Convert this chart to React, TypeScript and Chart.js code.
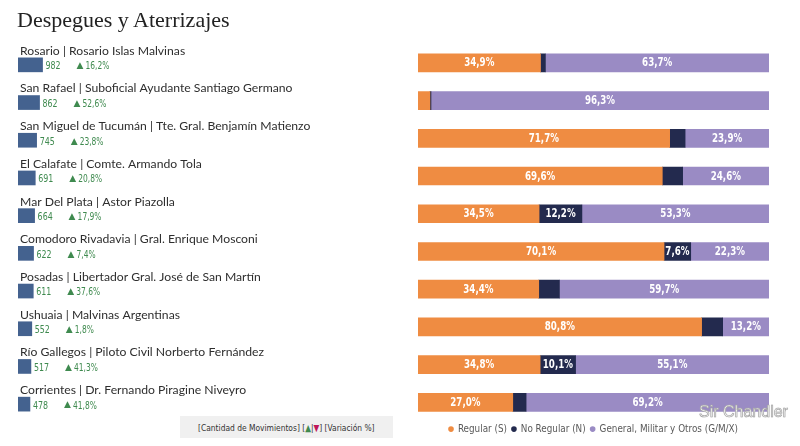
import React, { useEffect, useRef } from 'react';
import { Chart, registerables } from 'chart.js';

Chart.register(...registerables);

const airports = [
  'Rosario | Rosario Islas Malvinas',
  'San Rafael | Suboficial Ayudante Santiago Germano',
  'San Miguel de Tucumán | Tte. Gral. Benjamín Matienzo',
  'El Calafate | Comte. Armando Tola',
  'Mar Del Plata | Astor Piazolla',
  'Comodoro Rivadavia | Gral. Enrique Mosconi',
  'Posadas | Libertador Gral. José de San Martín',
  'Ushuaia | Malvinas Argentinas',
  'Río Gallegos | Piloto Civil Norberto Fernández',
  'Corrientes | Dr. Fernando Piragine Niveyro',
];
const movements = [982, 862, 745, 691, 664, 622, 611, 552, 517, 478];
const variation = [16.2, 52.6, 23.8, 20.8, 17.9, 7.4, 37.6, 1.8, 41.3, 41.8];

const regular = [34.9, 3.4, 71.7, 69.6, 34.5, 70.1, 34.4, 80.8, 34.8, 27.0];
const noRegular = [1.4, 0.3, 4.4, 5.8, 12.2, 7.6, 5.9, 6.0, 10.1, 3.8];
const general = [63.7, 96.3, 23.9, 24.6, 53.3, 22.3, 59.7, 13.2, 55.1, 69.2];
const seriesNames = ['Regular (S)', 'No Regular (N)', 'General, Militar y Otros (G/M/X)'];

const NARROW = "'Liberation Sans Narrow', 'DejaVu Sans Condensed', Roboto, sans-serif";
const fmt = (v: number) => v.toFixed(1).replace('.', ',') + '%';

const LEFT_X_MAX = 15280; // 1000 movements ≈ 25px across the 382px plot

// draw text horizontally condensed (fillText maxWidth squeeze)
function squeezed(ctx: any, text: string, x: number, y: number, factor: number) {
  const w = ctx.measureText(text).width;
  ctx.fillText(text, x, y, w * factor);
}

const leftLabels = {
  id: 'leftLabels',
  afterDatasetsDraw(chart: any) {
    const ctx = chart.ctx;
    const meta = chart.getDatasetMeta(0);
    ctx.save();
    ctx.textBaseline = 'middle';
    ctx.textAlign = 'left';
    meta.data.forEach((bar: any, i: number) => {
      const { x, y, base } = bar.getProps(['x', 'y', 'base'], true);
      ctx.font = '12.2px Lato';
      ctx.fillStyle = '#2e2e2e';
      ctx.fillText(airports[i], base + 2, y - 14);
      ctx.font = `11px ${NARROW}`;
      ctx.fillStyle = '#3f8a4f';
      squeezed(ctx, String(movements[i]), x + 3, y + 1.5, 0.8);
      const v = variation[i];
      ctx.fillStyle = v >= 0 ? '#3f8a4f' : '#c0185a';
      ctx.font = "9px 'DejaVu Sans'";
      ctx.fillText(v >= 0 ? '▲' : '▼', x + 34, y + 1);
      ctx.font = `11px ${NARROW}`;
      squeezed(ctx, fmt(Math.abs(v)), x + 43, y + 1.5, 0.76);
    });
    ctx.restore();
  },
};

const segLabels = {
  id: 'segLabels',
  afterDatasetsDraw(chart: any) {
    const ctx = chart.ctx;
    ctx.save();
    ctx.font = `bold 11.8px ${NARROW}`;
    ctx.fillStyle = '#ffffff';
    ctx.textAlign = 'center';
    ctx.textBaseline = 'middle';
    chart.data.datasets.forEach((ds: any, di: number) => {
      const meta = chart.getDatasetMeta(di);
      meta.data.forEach((el: any, i: number) => {
        const v = ds.data[i];
        if (v < 7) return;
        const { x, y, base } = el.getProps(['x', 'y', 'base'], true);
        squeezed(ctx, fmt(v), (x + base) / 2, y + 0.5, 0.82);
      });
    });
    ctx.restore();
  },
};

const legendShift = {
  id: 'legendShift',
  afterLayout(chart: any) {
    if (chart.legend) {
      chart.legend.top -= 2;
      chart.legend.bottom -= 2;
    }
  },
};

export default function App() {
  const leftRef = useRef<HTMLCanvasElement>(null);
  const rightRef = useRef<HTMLCanvasElement>(null);

  useEffect(() => {
    const left = new Chart(leftRef.current!, {
      type: 'bar',
      data: {
        labels: airports,
        datasets: [
          {
            label: 'Cantidad de Movimientos',
            data: movements,
            backgroundColor: '#44628f',
            borderWidth: 0,
            barThickness: 14,
          },
        ],
      },
      options: {
        indexAxis: 'y',
        responsive: true,
        maintainAspectRatio: false,
        animation: false,
        events: [],
        layout: { padding: { left: 18, right: 10, top: 46, bottom: 23 } },
        scales: {
          x: { min: 0, max: LEFT_X_MAX, display: false },
          y: { display: false },
        },
        plugins: { legend: { display: false }, tooltip: { enabled: false } },
      },
      plugins: [leftLabels],
    } as any);

    const colors = ['#ef8c42', '#232a4e', '#9a8bc4'];
    const right = new Chart(rightRef.current!, {
      type: 'bar',
      data: {
        labels: airports,
        datasets: [regular, noRegular, general].map((d, k) => ({
          label: seriesNames[k],
          data: d,
          backgroundColor: colors[k],
          borderWidth: 0,
          barThickness: 18,
          pointStyle: 'circle',
        })),
      },
      options: {
        indexAxis: 'y',
        responsive: true,
        maintainAspectRatio: false,
        animation: false,
        events: [],
        layout: { padding: { left: 418, right: 31, top: 44, bottom: 0 } },
        scales: {
          x: { stacked: true, min: 0, max: 100, display: false },
          y: { stacked: true, display: false },
        },
        plugins: {
          tooltip: { enabled: false },
          legend: {
            position: 'bottom',
            labels: {
              usePointStyle: true,
              pointStyle: 'circle',
              boxWidth: 4,
              boxHeight: 4,
              padding: 5,
              color: '#595959',
              font: { family: NARROW, size: 9.8 },
            },
          },
        },
      },
      plugins: [segLabels, legendShift],
    } as any);

    return () => {
      left.destroy();
      right.destroy();
    };
  }, []);

  return (
    <div style={{ position: 'absolute', left: 0, top: 0, width: 800, height: 446, background: '#fff', overflow: 'hidden' }}>
      <div style={{ position: 'absolute', left: 0, top: 0, width: 800, height: 446 }}>
        <canvas ref={rightRef} />
      </div>
      <div style={{ position: 'absolute', left: 0, top: 0, width: 410, height: 446 }}>
        <canvas ref={leftRef} />
      </div>
      <div
        style={{
          position: 'absolute',
          left: 17,
          top: 9,
          font: "22px/22px 'Liberation Serif', 'Times New Roman', serif",
          color: '#222',
          whiteSpace: 'nowrap',
        }}
      >
        Despegues y Aterrizajes
      </div>
      <div
        style={{
          position: 'absolute',
          left: 180,
          top: 416,
          width: 213,
          height: 22,
          background: '#f0f0f0',
          display: 'flex',
          alignItems: 'center',
          justifyContent: 'center',
          font: `9.5px ${NARROW}`,
          color: '#333',
          whiteSpace: 'nowrap',
        }}
      >
        <span style={{ display: 'inline-block', transform: 'scaleX(0.88)' }}>
          [Cantidad de Movimientos] [<span style={{ color: '#3f8a4f' }}>▲</span>|
          <span style={{ color: '#c0185a' }}>▼</span>] [Variación %]
        </span>
      </div>
      <div
        style={{
          position: 'absolute',
          left: 699,
          top: 403,
          font: "16px 'Liberation Sans', Arial, sans-serif",
          color: '#f3f3f3',
          WebkitTextStroke: '0.6px #a0a0a0',
          textShadow: '0 0 1px #bbb',
          whiteSpace: 'nowrap',
        }}
      >
        Sir Chandler
      </div>
    </div>
  );
}
